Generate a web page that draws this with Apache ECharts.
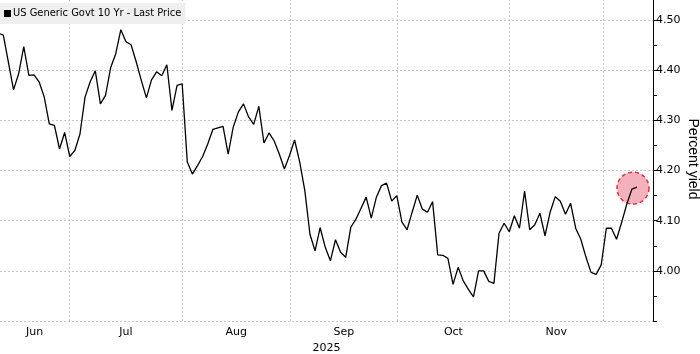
<!DOCTYPE html>
<html><head><meta charset="utf-8">
<script src="https://cdn.jsdelivr.net/npm/echarts@6/dist/echarts.min.js"></script>
<style>html,body{margin:0;padding:0;background:#fff}#c{width:700px;height:354px}</style>
</head><body><div id="c"></div>
<script>
const seriesName = 'US Generic Govt 10 Yr - Last Price';
// one value per trading day
const yields = [
 4.474,4.470,4.416,4.361,4.393,4.447,4.390,4.391,4.377,4.347,
 4.293,4.290,4.243,4.276,4.228,4.240,4.273,4.347,4.377,4.399,
 4.333,4.350,4.405,4.433,4.481,4.457,4.451,4.417,4.380,4.345,
 4.381,4.397,4.389,4.411,4.320,4.370,4.373,4.217,4.193,4.210,
 4.228,4.253,4.282,4.285,4.288,4.233,4.287,4.317,4.333,4.307,
 4.292,4.328,4.255,4.275,4.259,4.233,4.203,4.230,4.261,4.217,
 4.160,4.073,4.040,4.086,4.047,4.020,4.062,4.037,4.027,4.087,
 4.103,4.125,4.147,4.105,4.147,4.170,4.175,4.139,4.150,4.097,
 4.082,4.117,4.151,4.123,4.117,4.138,4.032,4.031,4.025,3.973,
 4.007,3.980,3.963,3.948,4.000,4.000,3.979,3.975,4.075,4.095,
 4.078,4.110,4.085,4.159,4.082,4.092,4.115,4.070,4.117,4.148,
 4.139,4.113,4.135,4.085,4.063,4.028,3.997,3.993,4.012,4.085,
 4.085,4.063,4.097,4.133,4.163,4.167
];
const monthLabels = ['Jun','Jul','Aug','Sep','Oct','Nov'];
// month starts (Jul..Dec) in trading-day index units
const monthStarts = [13.9, 36.05, 57.13, 78.15, 100.0, 118.4];
const yearLabel = '2025';
const yAxisName = 'Percent yield';

const X_MIN = 0.352, X_MAX = 128.13;
const lineData = yields.map((v, i) => [i, v]);
const bounds = [X_MIN].concat(monthStarts);
const labelPos = monthLabels.map((m, i) => (bounds[i] + bounds[i + 1]) / 2);
const FONT = 'DejaVu Sans';

const chart = echarts.init(document.getElementById('c'), null, {renderer: 'canvas'});
chart.setOption({
  animation: false,
  backgroundColor: '#fff',
  grid: {left: 0, right: 47, top: -30, bottom: 33, containLabel: false, outerBoundsMode: 'none'},
  legend: {
    data: [{name: seriesName, icon: 'rect'}],
    left: 0, top: 3, itemWidth: 7, itemHeight: 7,
    padding: [5, 4, 5, 4],
    backgroundColor: '#efefef',
    textStyle: {fontSize: 11, color: '#000', fontFamily: "'DejaVu Sans Condensed', " + FONT, padding: [0, 0, 0, -3]}
  },
  graphic: [{
    type: 'text', x: 693, y: 159, rotation: -Math.PI / 2, silent: true,
    style: {text: yAxisName, fill: '#000', font: '14px "Liberation Sans"', textAlign: 'center', textVerticalAlign: 'middle'}
  }],
  xAxis: {
    type: 'value', min: X_MIN, max: X_MAX,
    axisLine: {show: false}, axisTick: {show: false}, splitLine: {show: false},
    axisLabel: {
      customValues: labelPos, margin: 6, color: '#000', fontSize: 11, fontFamily: FONT,
      formatter: v => {
        let best = 0;
        labelPos.forEach((p, i) => { if (Math.abs(p - v) < Math.abs(labelPos[best] - v)) best = i; });
        return monthLabels[best];
      }
    },
    name: yearLabel, nameLocation: 'middle', nameGap: 20,
    nameTextStyle: {color: '#000', fontSize: 11, fontFamily: FONT}
  },
  yAxis: {
    type: 'value', position: 'right', min: 3.9, max: 4.6, interval: 0.1,
    axisLine: {show: true, lineStyle: {color: '#000', width: 1}},
    axisTick: {show: true, length: 4, lineStyle: {color: '#000'}},
    minorTick: {show: true, splitNumber: 2, length: 4, lineStyle: {color: '#000'}},
    axisLabel: {showMinLabel: false, margin: 3, color: '#000', fontSize: 11, fontFamily: FONT,
      formatter: v => v.toFixed(2)},
    splitLine: {show: true, lineStyle: {color: '#c8c8c8', width: 1, type: [2, 2]}}
  },
  series: [
    {
      type: 'line', data: [], silent: true, z: 0,
      markLine: {
        silent: true, symbol: 'none', animation: false, z: 0,
        label: {show: false},
        lineStyle: {color: '#c8c8c8', width: 1, type: [2, 2]},
        data: monthStarts.map(v => ({xAxis: v}))
      }
    },
    {
      type: 'scatter', data: [lineData[lineData.length - 1]], symbolSize: 32, symbolOffset: [-4, 1],
      silent: true, z: 1,
      itemStyle: {color: 'rgba(236,100,120,0.5)', borderColor: '#e0303f', borderWidth: 1.5, borderType: [4, 3], opacity: 1}
    },
    {
      name: seriesName, type: 'line', data: lineData, showSymbol: false, symbol: 'none',
      color: '#000', lineStyle: {color: '#000', width: 1.3}, z: 3
    }
  ]
});
</script></body></html>
